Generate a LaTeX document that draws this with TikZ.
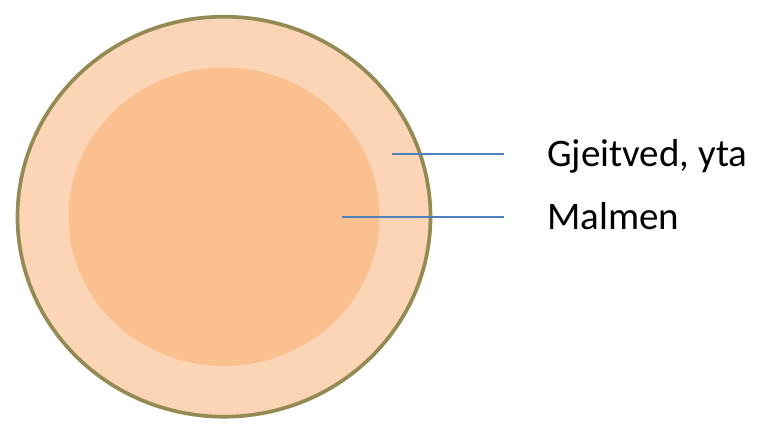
\documentclass[tikz,border=0pt]{standalone}
\usepackage{fontspec}
\setmainfont{Carlito}
\usetikzlibrary{calc}
\definecolor{rind}{HTML}{FBD5B5}
\definecolor{heart}{HTML}{FAC090}
\definecolor{bark}{HTML}{948A54}
\definecolor{leaderblue}{HTML}{4F81BD}

\begin{document}
\begin{tikzpicture}[x=1pt,y=-1pt,
    leader line/.style={draw=leaderblue,line width=1.7pt},
    layer label/.style={font=\fontsize{39}{46}\selectfont,anchor=base west,inner sep=0pt}]
            \useasboundingbox (0,0) rectangle (768,442);

            \coordinate (centre) at (224,216.7);
            \filldraw[fill=rind,draw=bark,line width=3.7pt] (centre) ellipse [x radius=206.5,y radius=200];
            \fill[heart] (centre) ellipse [x radius=155.5,y radius=149.2];

            \coordinate (surface) at (392,154.3);
            \coordinate (core) at (342,216.7);
            \node[layer label] (surface label) at (547,166.7) {Gjeitved, yta};
            \node[layer label] (core label) at (547,229.3) {Malmen};

            \draw[leader line] (surface) -- ($ (surface -| surface label.west) + (-43,0) $);
            \draw[leader line] (core) -- ($ (core -| core label.west) + (-43,0) $);
        \end{tikzpicture}
\end{document}
